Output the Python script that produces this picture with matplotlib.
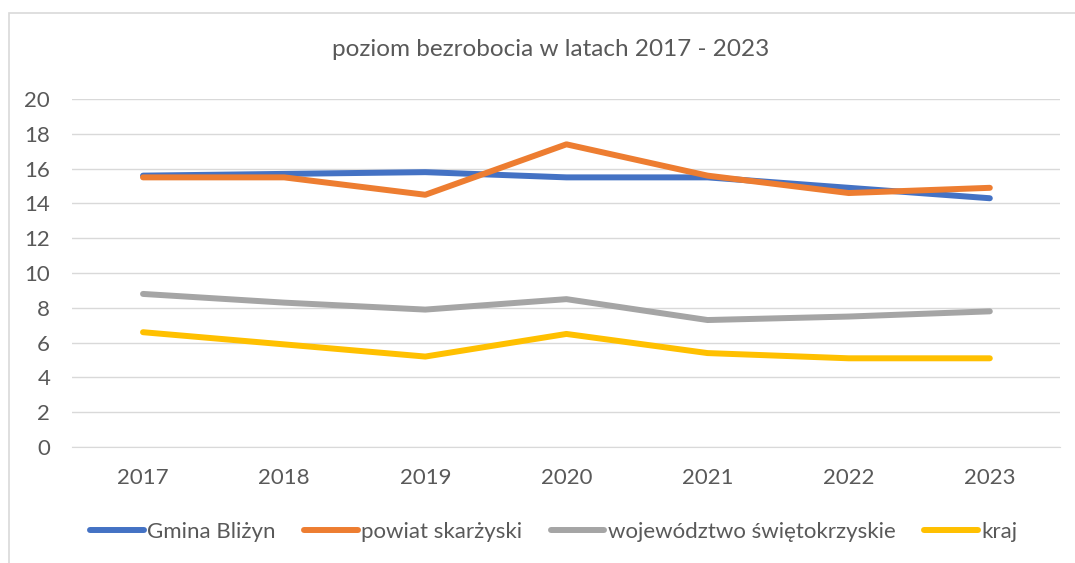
import matplotlib.pyplot as plt
from matplotlib.patches import Rectangle

years = ["2017", "2018", "2019", "2020", "2021", "2022", "2023"]
gmina = [15.6, 15.7, 15.8, 15.5, 15.5, 14.9, 14.3]
powiat = [15.5, 15.5, 14.5, 17.4, 15.6, 14.6, 14.9]
wojewodztwo = [8.8, 8.3, 7.9, 8.5, 7.3, 7.5, 7.8]
kraj = [6.6, 5.9, 5.2, 6.5, 5.4, 5.1, 5.1]

series = [
    ("Gmina Bliżyn", gmina, "#4472C4"),
    ("powiat skarżyski", powiat, "#ED7D31"),
    ("województwo świętokrzyskie", wojewodztwo, "#A5A5A5"),
    ("kraj", kraj, "#FFC000"),
]

plt.rcParams["font.family"] = ["Lato", "DejaVu Sans"]
text_color = "#595959"

fig = plt.figure(figsize=(10.75, 5.63), dpi=100)
ax = fig.add_axes([0.0674, 0.206, 0.919, 0.618])

# chart frame (Excel-style border)
fig.patches.append(Rectangle((9 / 1075, -0.1), 1.2, 1 - 13 / 563 + 0.1,
                             transform=fig.transFigure, fill=False,
                             edgecolor="#d9d9d9", linewidth=1.2))

x = range(len(years))
for label, vals, color in series:
    ax.plot(x, vals, color=color, linewidth=4.3, solid_capstyle="round",
            solid_joinstyle="round", label=label)

ax.set_xlim(-0.5, len(years) - 0.5)
ax.set_ylim(0, 20)
ax.set_yticks(range(0, 21, 2))
ax.set_xticks(list(x))
ax.set_xticklabels(years)
ax.grid(True, axis="y", color="#d9d9d9", linewidth=1)
ax.set_axisbelow(True)
for s in ["top", "right", "left"]:
    ax.spines[s].set_visible(False)
ax.spines["bottom"].set_color("#d9d9d9")
ax.tick_params(axis="both", length=0, labelsize=16, colors=text_color)
ax.tick_params(axis="x", pad=15)
ax.tick_params(axis="y", pad=16)

fig.text(0.512, 1 - 50 / 563, "poziom bezrobocia w latach 2017 - 2023",
         ha="center", va="center", fontsize=17.5, color=text_color)

leg = fig.legend(loc="center", bbox_to_anchor=(0.515, 1 - 532 / 563), ncol=4,
                 frameon=False, fontsize=16, handlelength=2.4,
                 handletextpad=0.15, columnspacing=1.3)
for t in leg.get_texts():
    t.set_color(text_color)

fig.savefig("out.png", dpi=100)
